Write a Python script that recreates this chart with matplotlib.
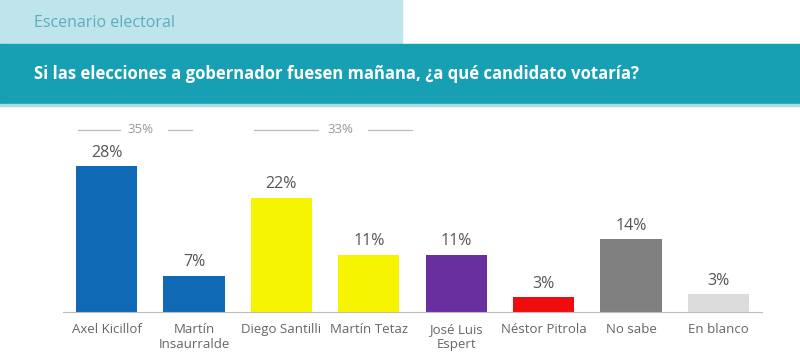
from matplotlib import pyplot as plt
from matplotlib.patches import Rectangle

# data
candidates = ["Axel Kicillof", "Martín\nInsaurralde", "Diego Santilli", "Martín Tetaz",
              "José Luis\nEspert", "Néstor Pitrola", "No sabe", "En blanco"]
values = [28, 7, 22, 11, 11, 2.8, 14, 3.4]
value_labels = ["28%", "7%", "22%", "11%", "11%", "3%", "14%", "3%"]
colors = ["#0f69b4", "#0f69b4", "#f7f400", "#f7f400", "#6a2f9e", "#f00c0c", "#808080", "#dcdcdc"]
group_labels = ["35%", "33%"]

plt.rcParams['font.family'] = ['Open Sans', 'DejaVu Sans']

fig = plt.figure(figsize=(8, 3.58), dpi=100)

# header bands
fig.patches.append(Rectangle((0, 1 - 44/358), 402/800, 44/358, transform=fig.transFigure,
                             color="#bfe4eb", zorder=0))
fig.patches.append(Rectangle((0, 1 - 104/358), 1, 60/358, transform=fig.transFigure,
                             color="#17a0b3", zorder=0))
fig.patches.append(Rectangle((0, 1 - 106/358), 1, 2/358, transform=fig.transFigure,
                             color="#a9dbe3", zorder=0))
fig.text(34/800, 1 - 23/358, "Escenario electoral", color="#5aaebd", fontsize=11.5,
         va="center", ha="left")
fig.text(34/800, 1 - 74/358, "Si las elecciones a gobernador fuesen mañana, ¿a qué candidato votaría?",
         color="white", fontsize=12, fontweight="bold", va="center", ha="left")

ax = fig.add_axes([63/800, 46/358, 699/800, 208/358])
x = range(len(values))
ax.bar(x, values, width=0.70, color=colors)
for i, v in enumerate(values):
    ax.annotate(value_labels[i], (i, v), xytext=(0, 4), textcoords="offset points",
                ha="center", va="bottom", fontsize=11.5, color="#555555")

# group totals
ax.text(0.39, 35, group_labels[0], ha="center", va="center", fontsize=9.5, color="#999999")
ax.plot([-0.33, 0.15], [35, 35], color="#bbbbbb", lw=0.9)
ax.plot([0.70, 0.98], [35, 35], color="#bbbbbb", lw=0.9)
ax.text(2.68, 35, group_labels[1], ha="center", va="center", fontsize=9.5, color="#999999")
ax.plot([1.69, 2.42], [35, 35], color="#bbbbbb", lw=0.9)
ax.plot([2.99, 3.49], [35, 35], color="#bbbbbb", lw=0.9)

ax.set_xlim(-0.5, 7.5)
ax.set_ylim(0, 40)
ax.set_xticks(list(x))
ax.set_xticklabels(candidates, fontsize=9.5, color="#666666", linespacing=1.2)
ax.tick_params(axis="x", length=0, pad=8)
ax.set_yticks([])
for s in ["top", "right", "left"]:
    ax.spines[s].set_visible(False)
ax.spines["bottom"].set_color("#bbbbbb")
ax.patch.set_alpha(0)

plt.savefig("out.png", dpi=100)
